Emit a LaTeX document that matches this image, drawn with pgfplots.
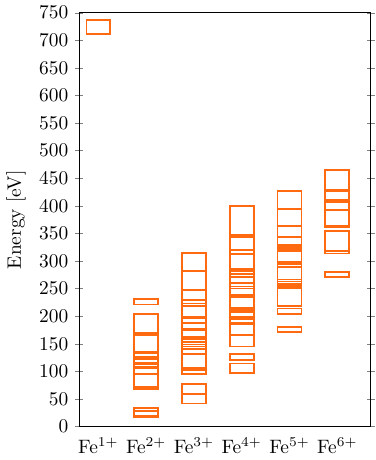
\documentclass[border=0pt]{standalone}
\usepackage{pgfplots}
\pgfplotsset{compat=1.18}
\definecolor{lvl}{HTML}{FF6A10}
% one level box: left x, right x, low, high
\newcommand{\bx}[4]{\addplot[lvl, line width=0.9pt, mark=none] coordinates {(#1,#3) (#2,#3) (#2,#4) (#1,#4)} --cycle;}
\begin{document}
\begin{tikzpicture}
\begin{axis}[
  scale only axis, width=150.4pt, height=213.5pt,
  xmin=-0.4, xmax=5.7, ymin=0, ymax=750,
  ytick={0,50,...,750},
  xtick={0,1,2,3,4,5},
  xticklabels={Fe$^{1+}$,Fe$^{2+}$,Fe$^{3+}$,Fe$^{4+}$,Fe$^{5+}$,Fe$^{6+}$},
  major x tick style={draw=none},
  tick align=center,
  ylabel={Energy [eV]},
]
% Fe1+
\bx{-0.25}{0.25}{712}{737}
% Fe2+
\bx{0.75}{1.25}{221}{231}
\bx{0.75}{1.25}{170}{204}
\bx{0.75}{1.25}{166}{170}
\bx{0.75}{1.25}{135}{166}
\bx{0.75}{1.25}{132.5}{135}
\bx{0.75}{1.25}{126}{132.5}
\bx{0.75}{1.25}{123}{126}
\bx{0.75}{1.25}{115.5}{123}
\bx{0.75}{1.25}{112.5}{115.5}
\bx{0.75}{1.25}{108}{112.5}
\bx{0.75}{1.25}{105}{108}
\bx{0.75}{1.25}{95.5}{105}
\bx{0.75}{1.25}{71.5}{95.5}
\bx{0.75}{1.25}{68.5}{71.5}
\bx{0.75}{1.25}{28.5}{33.5}
\bx{0.75}{1.25}{20}{28.5}
\bx{0.75}{1.25}{17}{20}
% Fe3+
\bx{1.75}{2.25}{282}{314.5}
\bx{1.75}{2.25}{248}{282}
\bx{1.75}{2.25}{229}{248}
\bx{1.75}{2.25}{223}{229}
\bx{1.75}{2.25}{219}{223}
\bx{1.75}{2.25}{198}{219}
\bx{1.75}{2.25}{196}{198}
\bx{1.75}{2.25}{188}{196}
\bx{1.75}{2.25}{177.5}{188}
\bx{1.75}{2.25}{175}{177.5}
\bx{1.75}{2.25}{162}{175}
\bx{1.75}{2.25}{159}{162}
\bx{1.75}{2.25}{153}{159}
\bx{1.75}{2.25}{148.5}{153}
\bx{1.75}{2.25}{145}{148.5}
\bx{1.75}{2.25}{140}{145}
\bx{1.75}{2.25}{131}{140}
\bx{1.75}{2.25}{106}{131}
\bx{1.75}{2.25}{103}{106}
\bx{1.75}{2.25}{95}{103}
\bx{1.75}{2.25}{59}{77}
\bx{1.75}{2.25}{42}{59}
% Fe4+
\bx{2.75}{3.25}{347}{400}
\bx{2.75}{3.25}{320.5}{344}
\bx{2.75}{3.25}{313}{320.5}
\bx{2.75}{3.25}{286}{313}
\bx{2.75}{3.25}{282}{286}
\bx{2.75}{3.25}{276}{282}
\bx{2.75}{3.25}{270.5}{276}
\bx{2.75}{3.25}{260}{270.5}
\bx{2.75}{3.25}{254}{260}
\bx{2.75}{3.25}{250}{254}
\bx{2.75}{3.25}{239}{250}
\bx{2.75}{3.25}{235}{239}
\bx{2.75}{3.25}{214.5}{235}
\bx{2.75}{3.25}{211.5}{214.5}
\bx{2.75}{3.25}{207.5}{211.5}
\bx{2.75}{3.25}{198}{207.5}
\bx{2.75}{3.25}{195}{198}
\bx{2.75}{3.25}{188}{195}
\bx{2.75}{3.25}{185}{188}
\bx{2.75}{3.25}{166}{185}
\bx{2.75}{3.25}{145}{166}
\bx{2.75}{3.25}{120.5}{131}
\bx{2.75}{3.25}{97}{114.5}
% Fe5+
\bx{3.75}{4.25}{394}{427.5}
\bx{3.75}{4.25}{363}{394}
\bx{3.75}{4.25}{343.5}{363}
\bx{3.75}{4.25}{329.5}{343.5}
\bx{3.75}{4.25}{325}{329.5}
\bx{3.75}{4.25}{321.5}{325}
\bx{3.75}{4.25}{318.5}{321.5}
\bx{3.75}{4.25}{298}{318.5}
\bx{3.75}{4.25}{295}{298}
\bx{3.75}{4.25}{289.5}{295}
\bx{3.75}{4.25}{266.5}{289.5}
\bx{3.75}{4.25}{263}{266.5}
\bx{3.75}{4.25}{258.5}{263}
\bx{3.75}{4.25}{254.5}{258.5}
\bx{3.75}{4.25}{251}{254.5}
\bx{3.75}{4.25}{219}{251}
\bx{3.75}{4.25}{204}{214}
\bx{3.75}{4.25}{172}{181}
% Fe6+
\bx{4.75}{5.25}{429}{464.5}
\bx{4.75}{5.25}{427.5}{429}
\bx{4.75}{5.25}{410}{427.5}
\bx{4.75}{5.25}{407}{410}
\bx{4.75}{5.25}{392.5}{407}
\bx{4.75}{5.25}{364.5}{392.5}
\bx{4.75}{5.25}{361}{364.5}
\bx{4.75}{5.25}{317.5}{354.5}
\bx{4.75}{5.25}{313.5}{317.5}
\bx{4.75}{5.25}{270.5}{280.5}
\end{axis}
\end{tikzpicture}
\end{document}
